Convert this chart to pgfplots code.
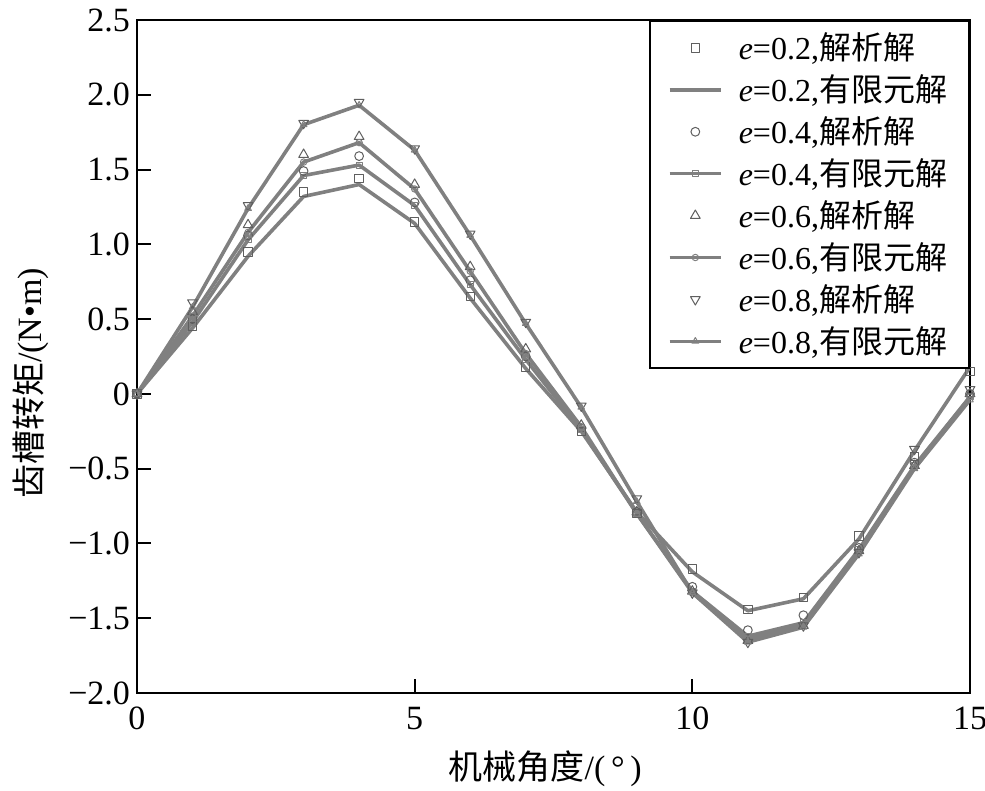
\documentclass[border=0pt]{standalone}
\usepackage{fontspec}
\setmainfont{Liberation Serif}
\newfontfamily\cjk{Noto Sans CJK SC}
\usepackage{pgfplots}
\usepackage{pgfplotstable}
\pgfplotsset{compat=1.18}
\definecolor{ln}{RGB}{128,128,128}
\definecolor{mk}{RGB}{95,95,95}

% A = analytical, F = finite element
\pgfplotstableread{
x  A02   F02   A04   F04   A06   F06   A08   F08
0  0     0     0     0     0     0     0     0
1  0.45  0.44  0.50  0.48  0.55  0.52  0.61  0.58
2  0.95  0.92  1.06  1.03  1.13  1.08  1.26  1.24
3  1.35  1.32  1.49  1.46  1.60  1.55  1.81  1.80
4  1.44  1.40  1.59  1.53  1.72  1.68  1.95  1.93
5  1.15  1.14  1.28  1.26  1.40  1.37  1.64  1.63
6  0.65  0.64  0.76  0.73  0.85  0.82  1.07  1.06
7  0.18  0.17  0.25  0.23  0.30  0.27  0.48  0.47
8  -0.25 -0.25 -0.23 -0.24 -0.21 -0.22 -0.08 -0.09
9  -0.80 -0.79 -0.79 -0.80 -0.79 -0.80 -0.70 -0.72
10 -1.17 -1.19 -1.29 -1.32 -1.32 -1.33 -1.33 -1.33
11 -1.44 -1.45 -1.58 -1.62 -1.65 -1.64 -1.66 -1.66
12 -1.36 -1.37 -1.48 -1.53 -1.55 -1.54 -1.55 -1.56
13 -0.95 -0.97 -1.03 -1.04 -1.05 -1.06 -1.06 -1.07
14 -0.42 -0.38 -0.46 -0.48 -0.48 -0.49 -0.37 -0.50
15 0.15  0.18  0.00  -0.02 0.00  -0.02 0.03  -0.04
}\data

\begin{document}
\begin{tikzpicture}
\begin{axis}[
  width=416.5pt, height=336.5pt, scale only axis,
  xmin=0, xmax=15, ymin=-2, ymax=2.5,
  xtick={0,5,10,15}, xticklabels={0,5,10,15},
  ytick={-2,-1.5,-1,-0.5,0,0.5,1,1.5,2,2.5},
  yticklabels={−2.0,−1.5,−1.0,−0.5,0,0.5,1.0,1.5,2.0,2.5},
  tick align=inside, tick pos=left,
  major tick length=7pt,
  axis line style={line width=1pt},
  tick style={line width=1pt, black},
  ticklabel style={font=\fontsize{17}{20}\selectfont},
  xticklabel style={yshift=-3.5pt},
  label style={font=\fontsize{17}{20}\selectfont},
  xlabel={{\cjk 机械角度}/(\,°\,)},
  ylabel={{\cjk 齿槽转矩}/(N•m)},
  xlabel style={at={(axis description cs:0.49,-0.113)}, anchor=center},
  ylabel style={at={(axis description cs:-0.128,0.46)}, anchor=center},
  legend style={at={(1,1)}, anchor=north east, draw=black, line width=1pt,
    font=\fontsize{16}{19}\selectfont, row sep=2pt, column sep=6pt,
    inner xsep=9pt, inner ysep=4pt, nodes={inner sep=2pt}},
  legend cell align=left,
  legend image code/.code={\draw[mark repeat=2, mark phase=2, #1]
    plot coordinates {(0cm,0cm) (0.45cm,0cm) (0.9cm,0cm)};},
  every axis plot/.append style={line join=round},
]
\coordinate (sw) at (rel axis cs:0,0);
\coordinate (ne) at (rel axis cs:1,1);
\addplot[only marks, mark=square, mark size=2.1pt, mark options={draw=mk, line width=0.5pt}] table[x=x, y=A02] {\data};
\addlegendentry{\textit{e}=0.2,{\cjk 解析解}}
\addplot[ln, line width=1.8pt, no marks] table[x=x, y=F02] {\data};
\addlegendentry{\textit{e}=0.2,{\cjk 有限元解}}
\addplot[only marks, mark=o, mark size=2.2pt, mark options={draw=mk, line width=0.5pt}] table[x=x, y=A04] {\data};
\addlegendentry{\textit{e}=0.4,{\cjk 解析解}}
\addplot[ln, line width=1.8pt, mark=square, mark size=1.5pt, mark options={line width=0.5pt, fill=white}] table[x=x, y=F04] {\data};
\addlegendentry{\textit{e}=0.4,{\cjk 有限元解}}
\addplot[only marks, mark=triangle, mark size=2.8pt, mark options={draw=mk, line width=0.5pt}] table[x=x, y=A06] {\data};
\addlegendentry{\textit{e}=0.6,{\cjk 解析解}}
\addplot[ln, line width=1.8pt, mark=o, mark size=1.6pt, mark options={line width=0.5pt, fill=white}] table[x=x, y=F06] {\data};
\addlegendentry{\textit{e}=0.6,{\cjk 有限元解}}
\addplot[only marks, mark=triangle, mark size=2.8pt, mark options={draw=mk, line width=0.5pt, rotate=180}] table[x=x, y=A08] {\data};
\addlegendentry{\textit{e}=0.8,{\cjk 解析解}}
\addplot[ln, line width=1.8pt, mark=triangle, mark size=1.9pt, mark options={line width=0.5pt, fill=white}] table[x=x, y=F08] {\data};
\addlegendentry{\textit{e}=0.8,{\cjk 有限元解}}
\end{axis}
\pgfresetboundingbox
\path ([shift={(-68.5pt,-49pt)}]sw) rectangle ([shift={(7.5pt,10pt)}]ne);
\end{tikzpicture}
\end{document}
